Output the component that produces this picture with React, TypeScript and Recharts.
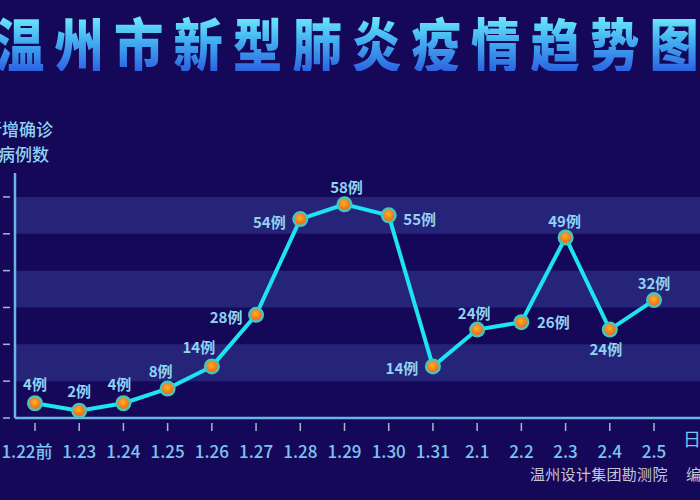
import { LineChart, Line, XAxis, YAxis, ReferenceArea, LabelList } from "recharts"

// daily new confirmed cases, Wenzhou
const dates = ["1.22前", "1.23", "1.24", "1.25", "1.26", "1.27", "1.28", "1.29", "1.30", "1.31", "2.1", "2.2", "2.3", "2.4", "2.5"]
const cases = [4, 2, 4, 8, 14, 28, 54, 58, 55, 14, 24, 26, 49, 24, 32]
const yTicks = [0, 10, 20, 30, 40, 50, 60]
const bandStarts = [10, 30, 50]
const bandSize = 10

const data = dates.map((date, i) => ({ idx: i, date, cases: cases[i] }))
const xTicks = data.map((d) => d.idx)

const BG = "#150858"
const BAND = "#252479"
const AXIS = "#6ab4e8"
const TICK = "#9fb8d8"
const TEXT = "#7cc4f0"
const LABEL = "#8fd2f2"
const FONT = "'Noto Sans CJK SC', 'Noto Sans', sans-serif"

// where each value label sits relative to its point
const labelOffset: [number, number][] = [
  [0, -20], [0, -20], [-4, -20], [-7, -18], [-13, -20],
  [-30, 2], [-31, 2], [2, -18], [31, 3], [-31, 1],
  [-3, -17], [32, -1], [-1, -17], [-4, 19], [0, -18],
]

const ValueLabel = (props: any) => {
  const { x, y, value, index } = props
  const [dx, dy] = labelOffset[index] || [0, -18]
  return (
    <text
      x={x + dx}
      y={y + dy}
      textAnchor="middle"
      dominantBaseline="central"
      fill={LABEL}
      fontSize={15}
      fontWeight={700}
      fontFamily={FONT}
    >
      {value}例
    </text>
  )
}

const Dot = (props: any) => {
  const { cx, cy, index } = props
  return (
    <g key={index}>
      <circle cx={cx} cy={cy} r={8} fill="#48c6bd" />
      <circle cx={cx} cy={cy} r={5.5} fill="url(#dotFill)" />
    </g>
  )
}

const DateTick = (props: any) => {
  const { x, y, payload } = props
  const i = payload.value
  return (
    <g>
      <line x1={x} x2={x} y1={y + 5} y2={y + 13} stroke={TICK} strokeWidth={1.5} />
      <text
        x={x + (i === 0 ? -8 : 0)}
        y={y + 32}
        textAnchor="middle"
        dominantBaseline="central"
        fill={TEXT}
        fontSize={17}
        fontWeight={500}
        fontFamily={FONT}
      >
        {dates[i]}
      </text>
    </g>
  )
}

const CountTick = (props: any) => {
  const { x, y } = props
  return <line x1={x - 12} x2={x - 5} y1={y} y2={y} stroke={TICK} strokeWidth={1.5} />
}

export default function App() {
  return (
    <div
      style={{
        position: "fixed",
        left: 0,
        top: 0,
        width: 700,
        height: 500,
        overflow: "hidden",
        background: BG,
        fontFamily: FONT,
      }}
    >
      <div
        style={{
          position: "absolute",
          left: -5,
          top: 13,
          fontSize: 58,
          lineHeight: 1,
          fontWeight: 900,
          letterSpacing: 12,
          whiteSpace: "nowrap",
          transform: "scaleX(0.85)",
          transformOrigin: "left top",
          background: "linear-gradient(180deg, #74f2fb 0%, #45b4f2 45%, #2c63e2 100%)",
          WebkitBackgroundClip: "text",
          backgroundClip: "text",
          color: "transparent",
        }}
      >
        温州市新型肺炎疫情趋势图
      </div>

      <div style={{ position: "absolute", left: -15, top: 116, fontSize: 17, lineHeight: "26px", color: LABEL, fontWeight: 500, whiteSpace: "nowrap" }}>
        新增确诊
      </div>
      <div style={{ position: "absolute", left: -2, top: 141, fontSize: 17, lineHeight: "26px", color: LABEL, fontWeight: 500, whiteSpace: "nowrap" }}>
        病例数
      </div>

      <div style={{ position: "absolute", left: 683, top: 425, fontSize: 18, color: TEXT, whiteSpace: "nowrap" }}>日期</div>
      <div style={{ position: "absolute", left: 530, top: 463, fontSize: 15, color: "#c4c4dc", letterSpacing: 0.3, whiteSpace: "nowrap" }}>
        温州设计集团勘测院
      </div>
      <div style={{ position: "absolute", left: 686, top: 463, fontSize: 15, color: "#c4c4dc", whiteSpace: "nowrap" }}>编制</div>

      <div style={{ position: "absolute", left: 0, top: 0 }}>
        <LineChart width={700} height={500} data={data} margin={{ top: 173, right: 0, bottom: 52, left: 0 }}>
          <defs>
            <radialGradient id="dotFill" cx="45%" cy="40%" r="60%">
              <stop offset="0%" stopColor="#ffb02a" />
              <stop offset="100%" stopColor="#f06a10" />
            </radialGradient>
          </defs>
          {bandStarts.map((b) => (
            <ReferenceArea key={b} y1={b} y2={b + bandSize} fill={BAND} fillOpacity={1} stroke="none" />
          ))}
          <XAxis
            dataKey="idx"
            type="number"
            domain={[-0.452, 15.04]}
            ticks={xTicks}
            interval={0}
            height={30}
            allowDataOverflow
            axisLine={{ stroke: AXIS, strokeWidth: 2.5 }}
            tickLine={false}
            tickSize={0}
            tickMargin={0}
            tick={<DateTick />}
          />
          <YAxis
            width={15}
            domain={[0, 66.5]}
            ticks={yTicks}
            allowDataOverflow
            axisLine={{ stroke: AXIS, strokeWidth: 2.5 }}
            tickLine={false}
            tickSize={0}
            tickMargin={0}
            tick={<CountTick />}
          />
          <Line
            type="linear"
            dataKey="cases"
            stroke="#1ee3f0"
            strokeWidth={4}
            dot={<Dot />}
            activeDot={false}
            isAnimationActive={false}
          >
            <LabelList dataKey="cases" content={<ValueLabel />} />
          </Line>
        </LineChart>
      </div>
    </div>
  )
}
